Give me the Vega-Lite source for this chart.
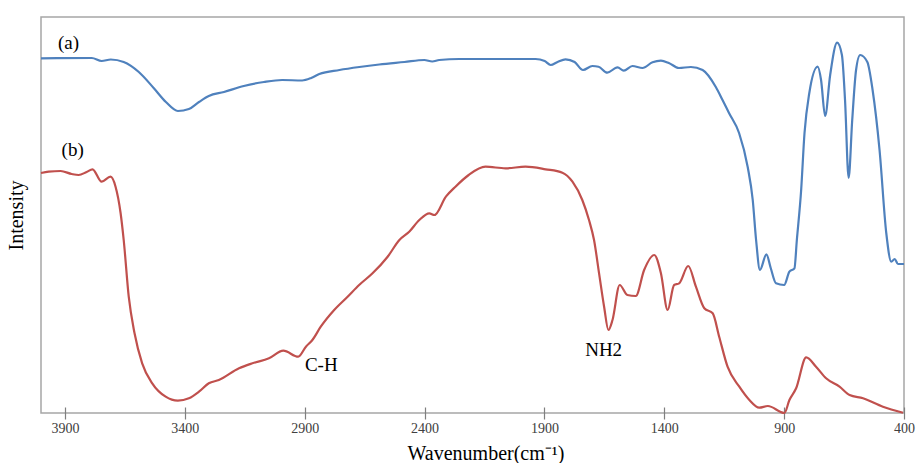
{
  "$schema": "https://vega.github.io/schema/vega-lite/v6.json",
  "width": 863,
  "height": 396,
  "autosize": "none",
  "padding": {"left": 41, "top": 17, "right": 12, "bottom": 50},
  "background": "white",
  "config": {
    "font": "Liberation Serif",
    "view": {"stroke": "#a6a6a6", "strokeWidth": 1.5}
  },
  "datasets": {
    "spectra": [
      {"s": "a", "w": 4000, "v": 354.7}, {"s": "a", "w": 3788, "v": 355}, {"s": "a", "w": 3747, "v": 352}, {"s": "a", "w": 3709, "v": 353.5}, {"s": "a", "w": 3655, "v": 351},
      {"s": "a", "w": 3592, "v": 341}, {"s": "a", "w": 3530, "v": 325}, {"s": "a", "w": 3479, "v": 311}, {"s": "a", "w": 3429, "v": 302}, {"s": "a", "w": 3383, "v": 304},
      {"s": "a", "w": 3341, "v": 311}, {"s": "a", "w": 3300, "v": 317}, {"s": "a", "w": 3237, "v": 321}, {"s": "a", "w": 3154, "v": 327}, {"s": "a", "w": 3070, "v": 331},
      {"s": "a", "w": 2994, "v": 333}, {"s": "a", "w": 2911, "v": 332.5}, {"s": "a", "w": 2873, "v": 335}, {"s": "a", "w": 2839, "v": 339}, {"s": "a", "w": 2755, "v": 343},
      {"s": "a", "w": 2672, "v": 346}, {"s": "a", "w": 2589, "v": 348.5}, {"s": "a", "w": 2484, "v": 351}, {"s": "a", "w": 2401, "v": 353}, {"s": "a", "w": 2368, "v": 351.5},
      {"s": "a", "w": 2339, "v": 353}, {"s": "a", "w": 2255, "v": 354}, {"s": "a", "w": 2171, "v": 354}, {"s": "a", "w": 2046, "v": 354}, {"s": "a", "w": 1937, "v": 354},
      {"s": "a", "w": 1899, "v": 352}, {"s": "a", "w": 1874, "v": 348}, {"s": "a", "w": 1845, "v": 351}, {"s": "a", "w": 1812, "v": 353.7}, {"s": "a", "w": 1774, "v": 351},
      {"s": "a", "w": 1739, "v": 343}, {"s": "a", "w": 1700, "v": 347}, {"s": "a", "w": 1674, "v": 346.3}, {"s": "a", "w": 1638, "v": 340.3}, {"s": "a", "w": 1595, "v": 345.7},
      {"s": "a", "w": 1569, "v": 342.3}, {"s": "a", "w": 1533, "v": 347}, {"s": "a", "w": 1491, "v": 345}, {"s": "a", "w": 1449, "v": 350.7}, {"s": "a", "w": 1414, "v": 352.3},
      {"s": "a", "w": 1381, "v": 350}, {"s": "a", "w": 1339, "v": 345}, {"s": "a", "w": 1289, "v": 346}, {"s": "a", "w": 1240, "v": 343}, {"s": "a", "w": 1185, "v": 326},
      {"s": "a", "w": 1157, "v": 313}, {"s": "a", "w": 1130, "v": 300}, {"s": "a", "w": 1088, "v": 280}, {"s": "a", "w": 1052, "v": 246}, {"s": "a", "w": 1031, "v": 213},
      {"s": "a", "w": 1017, "v": 173}, {"s": "a", "w": 1001, "v": 143}, {"s": "a", "w": 974, "v": 158.7}, {"s": "a", "w": 956, "v": 145}, {"s": "a", "w": 934, "v": 129.7},
      {"s": "a", "w": 900, "v": 128}, {"s": "a", "w": 878, "v": 141.3}, {"s": "a", "w": 857, "v": 144.7}, {"s": "a", "w": 847, "v": 173}, {"s": "a", "w": 829, "v": 223},
      {"s": "a", "w": 815, "v": 280}, {"s": "a", "w": 795, "v": 320}, {"s": "a", "w": 760, "v": 346.3}, {"s": "a", "w": 746, "v": 333}, {"s": "a", "w": 729, "v": 297},
      {"s": "a", "w": 708, "v": 338}, {"s": "a", "w": 679, "v": 370.3}, {"s": "a", "w": 659, "v": 358}, {"s": "a", "w": 646, "v": 313}, {"s": "a", "w": 631, "v": 235},
      {"s": "a", "w": 616, "v": 293}, {"s": "a", "w": 600, "v": 343}, {"s": "a", "w": 583, "v": 358}, {"s": "a", "w": 553, "v": 351}, {"s": "a", "w": 531, "v": 323},
      {"s": "a", "w": 502, "v": 263}, {"s": "a", "w": 474, "v": 180}, {"s": "a", "w": 453, "v": 151.3}, {"s": "a", "w": 439, "v": 154}, {"s": "a", "w": 425, "v": 149},
      {"s": "a", "w": 404, "v": 149}, {"s": "a", "w": 400, "v": 149},
      {"s": "b", "w": 4000, "v": 240}, {"s": "b", "w": 3968, "v": 241.3}, {"s": "b", "w": 3918, "v": 242}, {"s": "b", "w": 3872, "v": 239}, {"s": "b", "w": 3843, "v": 238},
      {"s": "b", "w": 3810, "v": 241}, {"s": "b", "w": 3785, "v": 243.7}, {"s": "b", "w": 3747, "v": 231.3}, {"s": "b", "w": 3710, "v": 236.3}, {"s": "b", "w": 3689, "v": 226.3},
      {"s": "b", "w": 3668, "v": 200}, {"s": "b", "w": 3655, "v": 173}, {"s": "b", "w": 3634, "v": 116.3}, {"s": "b", "w": 3610, "v": 80}, {"s": "b", "w": 3578, "v": 49.7},
      {"s": "b", "w": 3536, "v": 29.7}, {"s": "b", "w": 3480, "v": 16.3}, {"s": "b", "w": 3429, "v": 12.3}, {"s": "b", "w": 3383, "v": 14.7}, {"s": "b", "w": 3341, "v": 21.3},
      {"s": "b", "w": 3300, "v": 29.7}, {"s": "b", "w": 3258, "v": 33}, {"s": "b", "w": 3174, "v": 44.7}, {"s": "b", "w": 3118, "v": 49.7}, {"s": "b", "w": 3049, "v": 54.7},
      {"s": "b", "w": 2989, "v": 62.3}, {"s": "b", "w": 2927, "v": 56.3}, {"s": "b", "w": 2895, "v": 66.3}, {"s": "b", "w": 2868, "v": 73}, {"s": "b", "w": 2833, "v": 86.3},
      {"s": "b", "w": 2777, "v": 103}, {"s": "b", "w": 2721, "v": 116.3}, {"s": "b", "w": 2673, "v": 128}, {"s": "b", "w": 2617, "v": 139.7}, {"s": "b", "w": 2554, "v": 156.3},
      {"s": "b", "w": 2505, "v": 173}, {"s": "b", "w": 2464, "v": 181.3}, {"s": "b", "w": 2422, "v": 193}, {"s": "b", "w": 2380, "v": 199.7}, {"s": "b", "w": 2359, "v": 198},
      {"s": "b", "w": 2311, "v": 216.3}, {"s": "b", "w": 2271, "v": 226.3}, {"s": "b", "w": 2216, "v": 238}, {"s": "b", "w": 2146, "v": 246.3}, {"s": "b", "w": 2062, "v": 244.7},
      {"s": "b", "w": 1979, "v": 246.3}, {"s": "b", "w": 1895, "v": 243.7}, {"s": "b", "w": 1825, "v": 240.3}, {"s": "b", "w": 1783, "v": 231.3}, {"s": "b", "w": 1742, "v": 213},
      {"s": "b", "w": 1714, "v": 193}, {"s": "b", "w": 1693, "v": 173}, {"s": "b", "w": 1672, "v": 139.7}, {"s": "b", "w": 1651, "v": 106.3}, {"s": "b", "w": 1633, "v": 83},
      {"s": "b", "w": 1616, "v": 93}, {"s": "b", "w": 1586, "v": 128}, {"s": "b", "w": 1554, "v": 118}, {"s": "b", "w": 1519, "v": 117}, {"s": "b", "w": 1484, "v": 143},
      {"s": "b", "w": 1442, "v": 158}, {"s": "b", "w": 1414, "v": 139.7}, {"s": "b", "w": 1386, "v": 103}, {"s": "b", "w": 1359, "v": 128}, {"s": "b", "w": 1338, "v": 129.7},
      {"s": "b", "w": 1300, "v": 147}, {"s": "b", "w": 1268, "v": 126.3}, {"s": "b", "w": 1233, "v": 104.7}, {"s": "b", "w": 1198, "v": 99.7}, {"s": "b", "w": 1171, "v": 76.3},
      {"s": "b", "w": 1136, "v": 46.3}, {"s": "b", "w": 1087, "v": 26.3}, {"s": "b", "w": 1045, "v": 13}, {"s": "b", "w": 1004, "v": 5.3}, {"s": "b", "w": 968, "v": 7},
      {"s": "b", "w": 899, "v": 0}, {"s": "b", "w": 878, "v": 13}, {"s": "b", "w": 850, "v": 24.7}, {"s": "b", "w": 808, "v": 55.7}, {"s": "b", "w": 767, "v": 46.3},
      {"s": "b", "w": 725, "v": 34.7}, {"s": "b", "w": 669, "v": 26.3}, {"s": "b", "w": 627, "v": 18}, {"s": "b", "w": 571, "v": 14.7}, {"s": "b", "w": 488, "v": 6.3},
      {"s": "b", "w": 404, "v": 0.3}
    ],
    "notes": [
      {"label": "(a)", "w": 3885, "v": 370},
      {"label": "(b)", "w": 3868, "v": 263},
      {"label": "C-H", "w": 2831, "v": 48},
      {"label": "NH2", "w": 1653, "v": 63}
    ]
  },
  "layer": [
    {
      "data": {"name": "spectra"},
      "mark": {"type": "line", "interpolate": "monotone", "strokeWidth": 2.2},
      "encoding": {
        "x": {
          "field": "w", "type": "quantitative",
          "scale": {"domain": [400, 4000], "reverse": true, "nice": false, "zero": false},
          "axis": {
            "title": "Wavenumber(cm⁻¹)",
            "values": [3900, 3400, 2900, 2400, 1900, 1400, 900, 400],
            "format": "d",
            "domain": false, "grid": false,
            "offset": -6, "tickSize": 12, "tickColor": "#7f7f7f", "tickWidth": 1.2,
            "labelFont": "Liberation Serif", "labelFontSize": 14, "labelColor": "#404040",
            "labelPadding": 2, "labelFlush": false, "labelOverlap": false,
            "titleFont": "Liberation Serif", "titleFontSize": 20, "titleFontWeight": "normal", "titleColor": "#000000",
            "titleX": 444.5, "titleY": 52.5, "titleAlign": "center", "titleBaseline": "alphabetic"
          }
        },
        "y": {
          "field": "v", "type": "quantitative",
          "scale": {"domain": [0, 396], "nice": false, "zero": false},
          "axis": {
            "title": "Intensity", "domain": false, "ticks": false, "labels": false, "grid": false,
            "titleFont": "Liberation Serif", "titleFontSize": 20, "titleFontWeight": "normal", "titleColor": "#000000",
            "titleX": -19, "titleY": 198, "titleAngle": -90, "titleAlign": "center", "titleBaseline": "alphabetic"
          }
        },
        "color": {
          "field": "s", "type": "nominal",
          "scale": {"domain": ["a", "b"], "range": ["#4F81BD", "#C0504D"]},
          "legend": null
        }
      }
    },
    {
      "data": {"name": "notes"},
      "mark": {"type": "text", "font": "Liberation Serif", "fontSize": 19, "color": "#000000", "align": "center", "baseline": "middle"},
      "encoding": {
        "x": {"field": "w", "type": "quantitative"},
        "y": {"field": "v", "type": "quantitative"},
        "text": {"field": "label"}
      }
    }
  ]
}
